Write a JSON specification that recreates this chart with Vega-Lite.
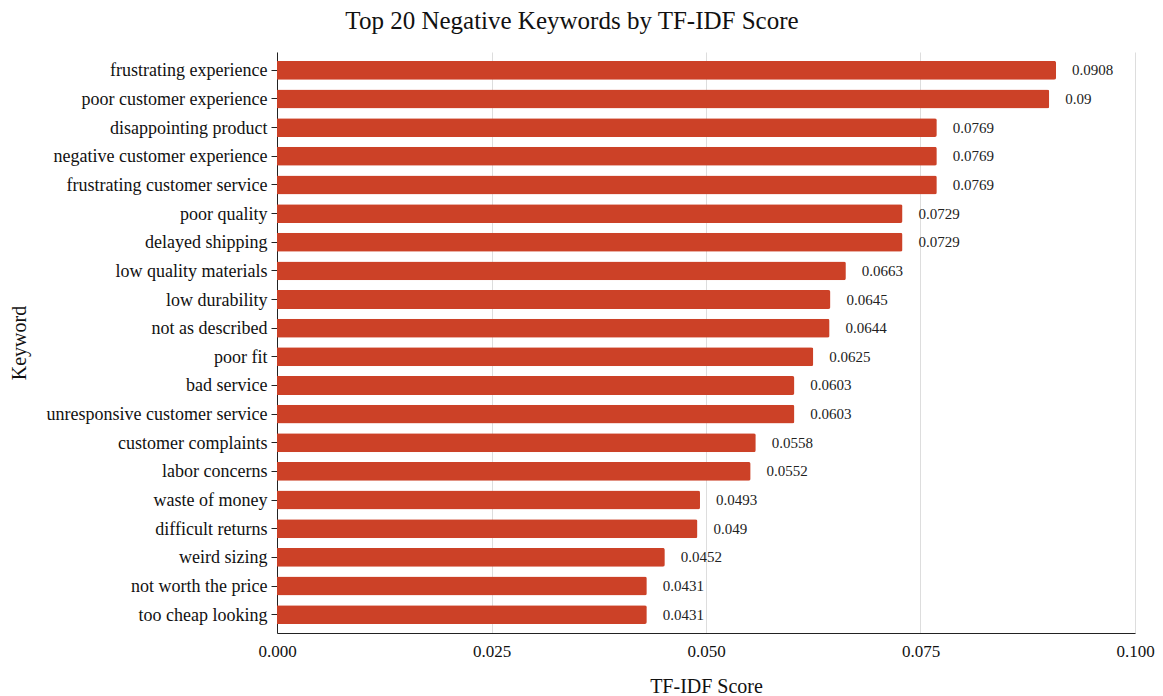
{
  "$schema": "https://vega.github.io/schema/vega-lite/v6.json",
  "width": 858,
  "height": 581,
  "autosize": {"type": "none"},
  "padding": {"left": 277, "top": 52, "right": 28, "bottom": 63},
  "background": "white",
  "title": {
    "text": "Top 20 Negative Keywords by TF-IDF Score",
    "font": "Liberation Serif",
    "fontSize": 25,
    "fontWeight": "normal",
    "color": "#111111",
    "anchor": "middle",
    "dx": -134,
    "offset": 18
  },
  "config": {
    "view": {"stroke": null},
    "font": "Liberation Serif"
  },
  "data": {
    "values": [
      {"keyword": "frustrating experience", "score": 0.0908},
      {"keyword": "poor customer experience", "score": 0.09},
      {"keyword": "disappointing product", "score": 0.0769},
      {"keyword": "negative customer experience", "score": 0.0769},
      {"keyword": "frustrating customer service", "score": 0.0769},
      {"keyword": "poor quality", "score": 0.0729},
      {"keyword": "delayed shipping", "score": 0.0729},
      {"keyword": "low quality materials", "score": 0.0663},
      {"keyword": "low durability", "score": 0.0645},
      {"keyword": "not as described", "score": 0.0644},
      {"keyword": "poor fit", "score": 0.0625},
      {"keyword": "bad service", "score": 0.0603},
      {"keyword": "unresponsive customer service", "score": 0.0603},
      {"keyword": "customer complaints", "score": 0.0558},
      {"keyword": "labor concerns", "score": 0.0552},
      {"keyword": "waste of money", "score": 0.0493},
      {"keyword": "difficult returns", "score": 0.049},
      {"keyword": "weird sizing", "score": 0.0452},
      {"keyword": "not worth the price", "score": 0.0431},
      {"keyword": "too cheap looking", "score": 0.0431}
    ]
  },
  "encoding": {
    "y": {
      "field": "keyword",
      "type": "nominal",
      "sort": null,
      "scale": {"paddingInner": 0.34, "paddingOuter": 0.31},
      "axis": {
        "title": "Keyword",
        "titleFont": "Liberation Serif",
        "titleFontSize": 20,
        "titleFontWeight": "normal",
        "titleColor": "#111111",
        "titlePadding": 48,
        "labelFont": "Liberation Serif",
        "labelFontSize": 18,
        "labelColor": "#111111",
        "labelPadding": 4,
        "labelOffset": 1,
        "labelLimit": 400,
        "tickSize": 6,
        "tickColor": "#222222",
        "domainColor": "#222222",
        "grid": false
      }
    },
    "x": {
      "field": "score",
      "type": "quantitative",
      "scale": {"domain": [0, 0.1], "nice": false},
      "axis": {
        "title": "TF-IDF Score",
        "titleFont": "Liberation Serif",
        "titleFontSize": 20,
        "titleFontWeight": "normal",
        "titleColor": "#111111",
        "titlePadding": 17,
        "values": [0, 0.025, 0.05, 0.075, 0.1],
        "format": ".3f",
        "labelFont": "Liberation Serif",
        "labelFontSize": 17,
        "labelColor": "#111111",
        "labelPadding": 10,
        "labelFlush": false,
        "ticks": false,
        "domainColor": "#222222",
        "grid": true,
        "gridColor": "#dddddd",
        "gridWidth": 1
      }
    }
  },
  "layer": [
    {
      "mark": {"type": "bar", "color": "#cc4127", "cornerRadiusEnd": 2}
    },
    {
      "mark": {
        "type": "text",
        "align": "left",
        "baseline": "middle",
        "dx": 16,
        "font": "Liberation Serif",
        "fontSize": 15,
        "color": "#222222"
      },
      "encoding": {
        "text": {"field": "score", "type": "nominal"}
      }
    }
  ]
}
